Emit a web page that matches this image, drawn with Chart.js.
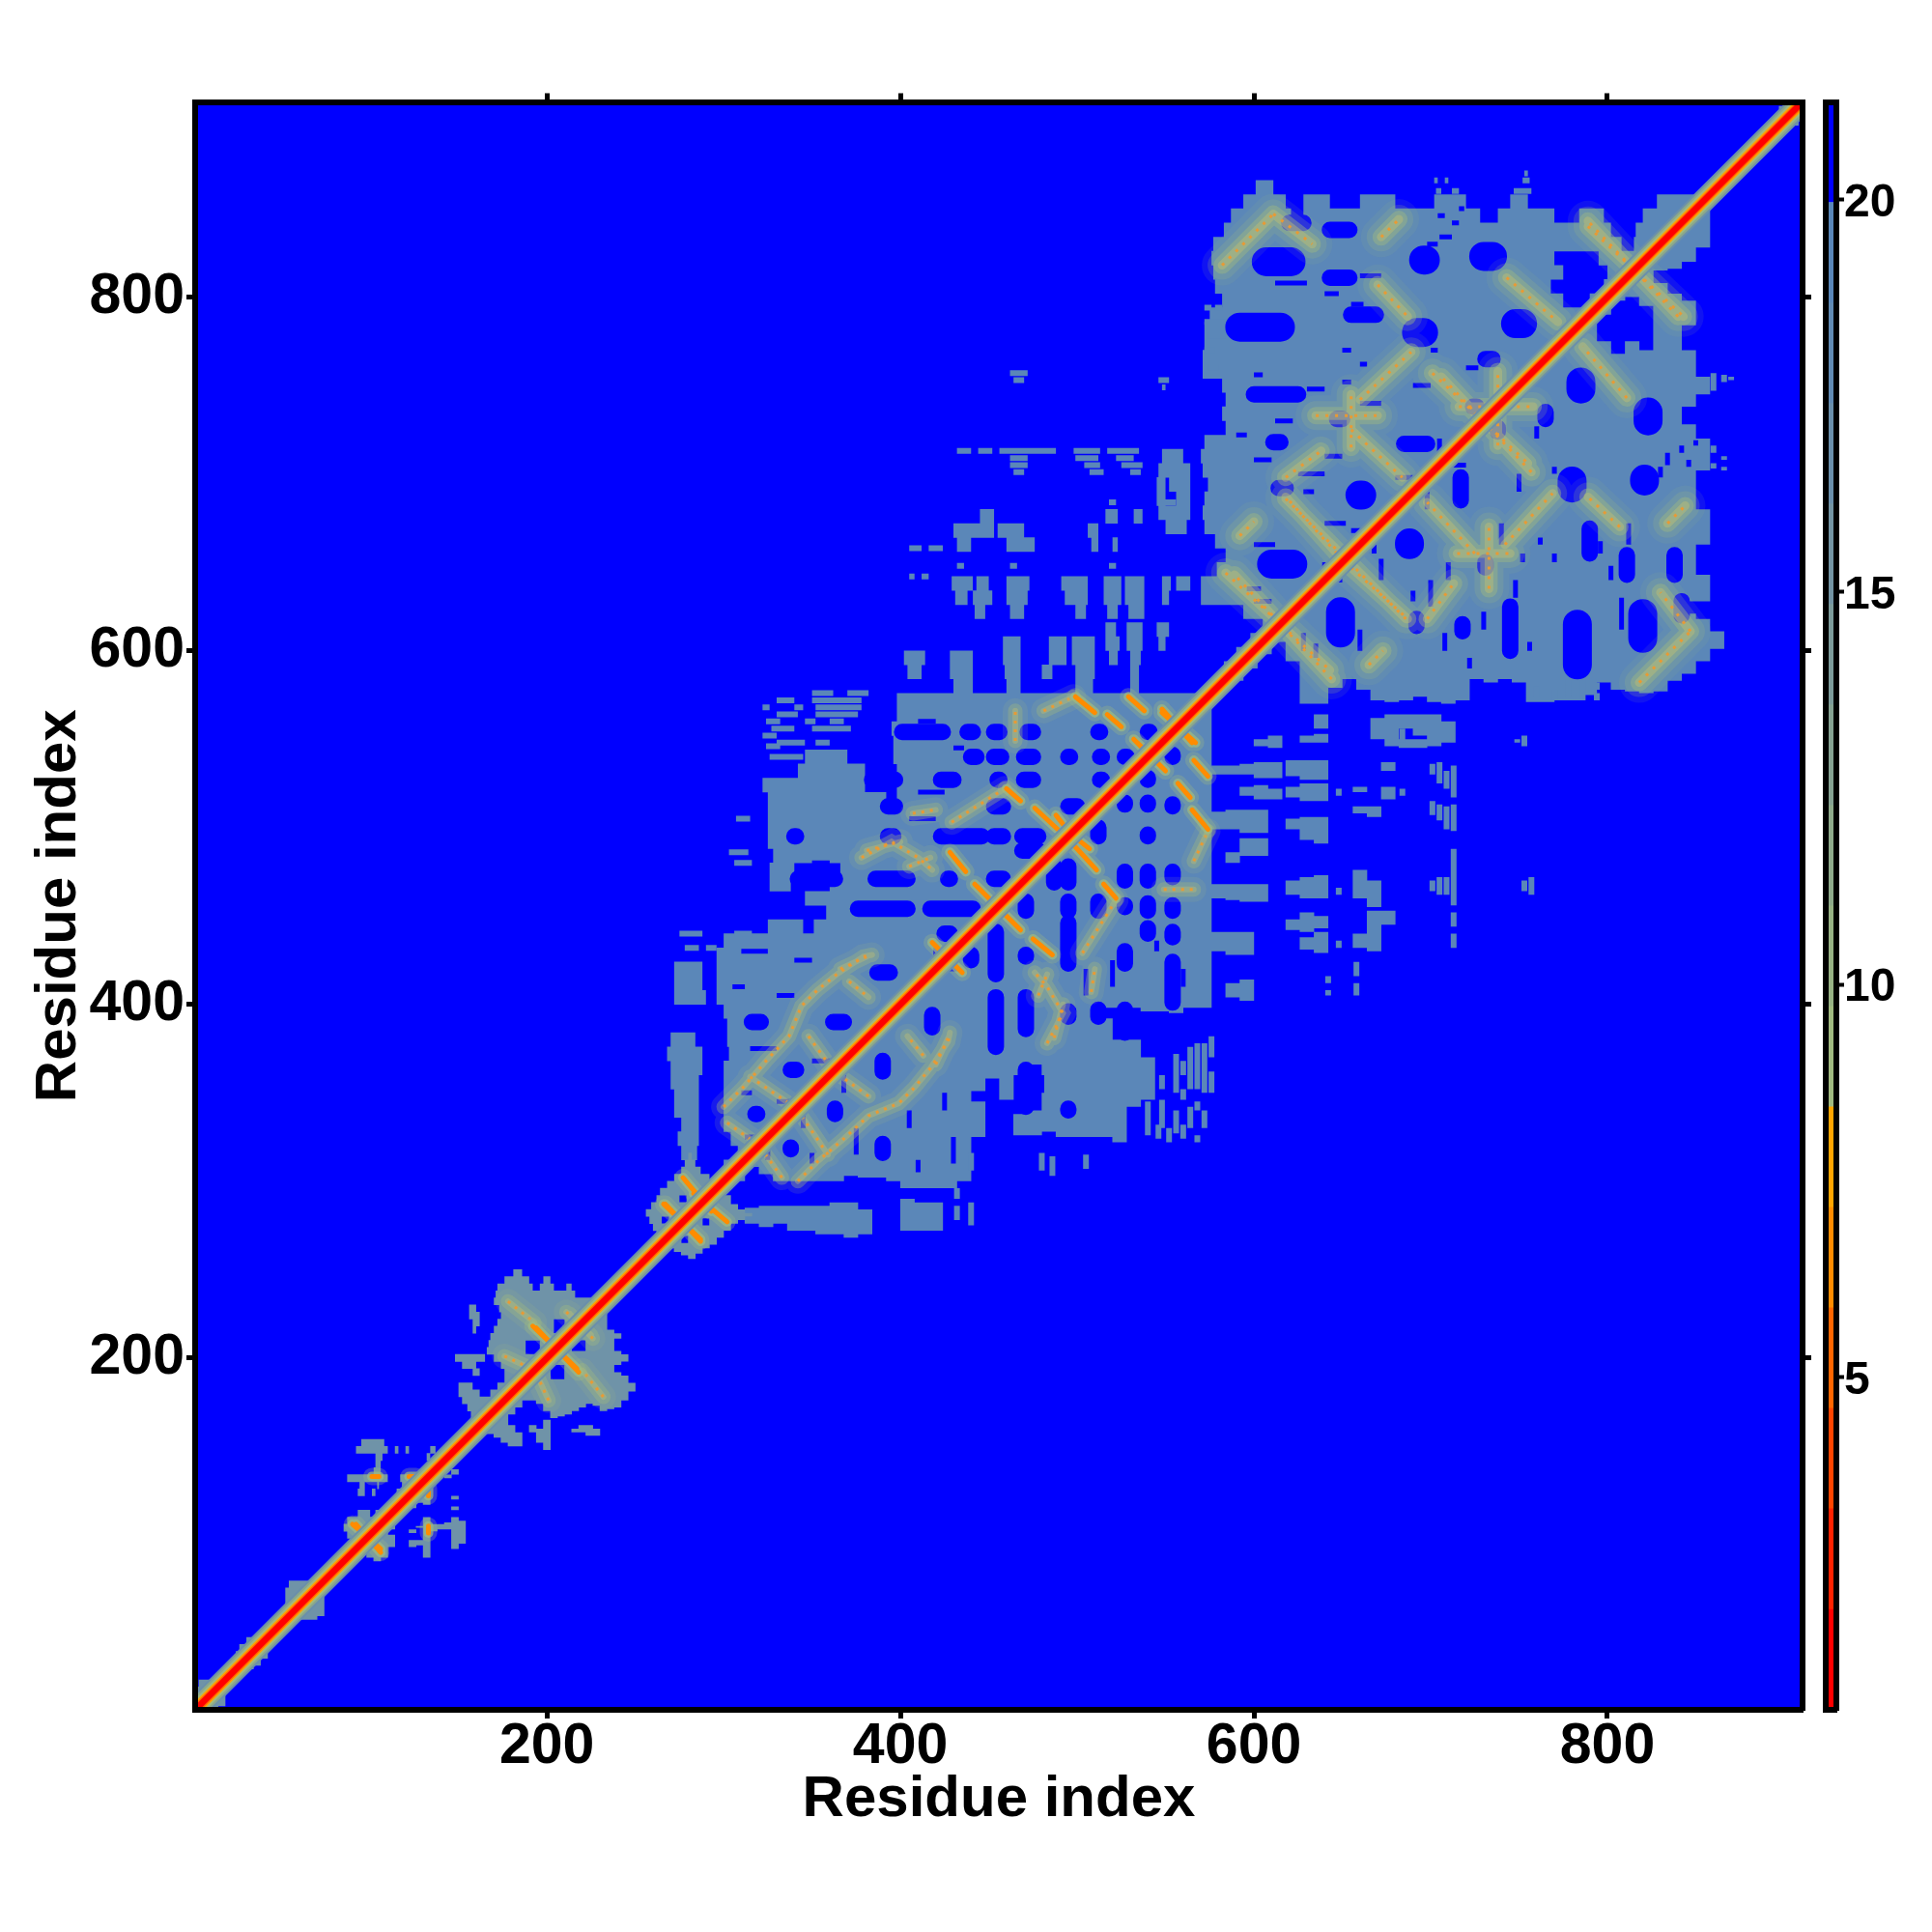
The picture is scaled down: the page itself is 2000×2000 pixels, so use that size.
<!DOCTYPE html>
<html>
<head>
<meta charset="utf-8">
<title>Residue contact map</title>
<script src="https://cdn.jsdelivr.net/npm/chart.js@4"></script>
<style>
  html, body { margin: 0; padding: 0; background: #fff; }
  #wrap { position: relative; width: 2000px; height: 2000px; }
  canvas { position: absolute; left: 0; top: 0; }
</style>
</head>
<body>
<div id="wrap">
  <canvas id="map" width="2000" height="2000"></canvas>
  <canvas id="bar" width="2000" height="2000"></canvas>
</div>
<script>
// tick labels
const axisTicks = [200, 400, 600, 800];
const barTicks = [5, 10, 15, 20];
const residueMin = 1;
const residueMax = 910.4;

// colour key: level edges (distance) and the colour of each level
const levelEdges = [0.76, 2.04, 3.32, 4.6, 5.88, 7.16, 8.44, 9.72, 11, 12.28, 13.56, 14.84, 16.12, 17.4, 18.68, 19.96, 21.24];
const levelColors = ['#ff0000', '#ff2200', '#ff4500', '#ff6600', '#ff8c00', '#ffa500',
  '#a0ba80', '#97b284', '#8eaa8a', '#85a292', '#7c9b9a', '#7394a3', '#6a8fab', '#618ab3', '#5a87b9', '#0000ff'];

const diagonalEnds = [1, 1, 910, 910];

// Only the half with x < y is listed, the other half is its mirror.
// each row: y, then x start / x end pairs. rows 8 residues tall
const coarseRows = [
  [862, 601, 611],
  [854, 594, 618, 628, 643, 660, 680, 702, 720, 745, 755, 828, 854],
  [846, 587, 621, 628, 728, 738, 770, 784, 798, 820, 846],
  [838, 583, 802, 816, 838],
  [830, 577, 808, 815, 830],
  [822, 576, 770, 795, 822],
  [814, 577, 775, 800, 814],
  [806, 578, 768, 798, 806],
  [798, 582, 775, 790, 798],
  [790, 575, 790],
  [782, 572, 782],
  [774, 572, 774],
  [766, 571, 766],
  [758, 571, 758],
  [750, 582, 750],
  [742, 584, 742],
  [734, 582, 734],
  [726, 584, 726],
  [718, 572, 718],
  [710, 548, 560, 570, 710],
  [702, 546, 564, 571, 702],
  [694, 545, 550, 552, 564, 574, 694],
  [686, 545, 550, 556, 564, 572, 686],
  [678, 546, 564, 571, 678],
  [676, 445, 453, 516, 523, 532, 537],
  [670, 550, 562, 572, 670],
  [668, 430, 453, 455, 470, 506, 512],
  [662, 578, 662],
  [660, 432, 440, 460, 476, 508, 512, 520, 523],
  [654, 584, 654],
  [646, 579, 646],
  [638, 429, 441, 443, 450, 460, 473, 491, 506, 515, 525, 527, 538, 548, 553, 556, 564, 570, 638],
  [630, 431, 438, 441, 452, 460, 472, 493, 506, 515, 525, 527, 538, 548, 552, 570, 630],
  [622, 442, 448, 462, 470, 499, 505, 517, 523, 529, 538, 594, 622],
  [614, 605, 614],
  [612, 516, 522, 528, 537, 545, 552],
  [606, 598, 606],
  [604, 458, 468, 484, 494, 497, 510, 516, 524, 528, 537, 546, 550],
  [598, 590, 598],
  [596, 402, 414, 428, 441, 458, 468, 484, 494, 497, 510, 518, 523, 530, 536],
  [590, 583, 590],
  [588, 404, 412, 428, 441, 459, 468, 480, 486, 499, 510, 530, 535],
  [580, 430, 441, 460, 468, 499, 509, 530, 535],
  [572, 398, 572],
  [564, 398, 564],
  [556, 395, 556],
  [548, 396, 548],
  [540, 346, 370, 396, 540],
  [532, 342, 380, 398, 532],
  [524, 322, 380, 398, 524],
  [516, 325, 392, 398, 516],
  [508, 325, 508],
  [500, 325, 500],
  [492, 325, 492],
  [484, 328, 484],
  [476, 326, 340, 366, 476],
  [468, 326, 338, 360, 468],
  [460, 346, 460],
  [452, 358, 452],
  [444, 325, 345, 351, 444],
  [436, 300, 436],
  [428, 296, 428],
  [420, 272, 288, 296, 420],
  [412, 272, 288, 296, 412],
  [404, 272, 290, 296, 404],
  [396, 300, 396],
  [388, 302, 388],
  [380, 270, 284, 302, 380],
  [372, 268, 288, 303, 372],
  [364, 270, 288, 300, 364],
  [356, 270, 286, 300, 356],
  [348, 272, 286, 300, 348],
  [340, 272, 286, 300, 340],
  [332, 276, 286, 300, 332],
  [324, 274, 286, 304, 324],
  [316, 276, 285, 308, 316],
  [308, 300, 308]
];

// blue gaps punched into the blobs: y, then x start / x end pairs
const bigHoles = [
  [783, 592, 615], [820, 607, 621], [821, 696, 697], [823, 730, 735], [780, 692, 696],
  [785, 748, 752], [649, 610, 622], [688, 660, 661]
];
const smallHoles = [
  [842, 620, 628], [838, 643, 654], [811, 643, 654],
  [790, 655, 669], [765, 731, 735],
  [745, 600, 625], [738, 724, 726], [731, 647, 650], [718, 611, 615], [717, 685, 698],
  [692, 614, 618],
  [554, 401, 424], [554, 438, 441], [554, 453, 456], [554, 472, 475], [554, 512, 513], [554, 540, 541],
  [540, 440, 443], [540, 453, 457], [540, 470, 475], [540, 495, 496], [540, 513, 514], [540, 527, 528],
  [527, 384, 397], [527, 423, 430], [527, 455, 456], [527, 470, 475], [527, 513, 514],
  [512, 393, 397], [512, 453, 458], [512, 495, 500],
  [495, 340, 341], [495, 393, 396], [495, 423, 446], [495, 453, 458], [495, 469, 478], [487, 469, 478],
  [471, 342, 363], [471, 386, 404], [471, 427, 428], [471, 453, 458],
  [454, 376, 404], [454, 417, 441],
  [440, 425, 428], [418, 387, 394],
  [390, 316, 321], [390, 362, 368], [363, 338, 341], [338, 318, 319]
];
// short ragged gaps
const holeSpecks = [
  [846, 704, 708], [842, 712, 716], [850, 716, 719], [834, 705, 712], [830, 698, 704],
  [812, 660, 672], [808, 612, 630], [802, 640, 648], [796, 655, 662], [770, 700, 704],
  [760, 720, 727], [756, 600, 605], [748, 630, 640], [752, 650, 655], [730, 612, 622],
  [722, 590, 596], [700, 625, 640], [708, 600, 610], [690, 628, 634], [672, 640, 652],
  [668, 655, 665], [660, 600, 612], [640, 640, 650], [635, 596, 604], [628, 600, 610],
  [770, 650, 655], [762, 660, 664], [750, 690, 700], [740, 660, 672], [710, 640, 650],
  [705, 712, 720], [698, 680, 690],
  [560, 410, 420], [545, 430, 436], [520, 410, 425], [505, 405, 420], [480, 350, 360],
  [450, 335, 345], [430, 310, 325], [425, 340, 350], [410, 305, 312], [405, 330, 340],
  [375, 315, 330], [368, 350, 362], [350, 310, 316], [345, 330, 340], [325, 312, 322],
  [420, 420, 432]
];

// thin steel rows, 4 residues tall, the ragged outlying bits
const thinRows = [
  [757, 462, 472], [753, 464, 470, 546, 552], [749, 548, 550],
  [713, 432, 440, 444, 452, 456, 488, 498, 513, 517, 535],
  [709, 462, 472, 499, 512, 522, 532],
  [705, 462, 472, 504, 513, 525, 537],
  [701, 464, 470, 507, 515, 530, 536],
  [658, 405, 412, 416, 424], [684, 518, 522, 548, 556],
  [648, 432, 436, 462, 466, 518, 522], [642, 405, 408, 412, 416],
  [870, 753, 755], [866, 702, 704, 708, 710, 752, 756], [860, 703, 706, 712, 716, 747, 757],
  [576, 350, 362, 370, 382], [572, 330, 340, 350, 378], [568, 322, 326, 340, 345, 352, 378],
  [564, 330, 342, 352, 376], [560, 324, 332, 346, 352, 360, 368], [556, 327, 340, 350, 372],
  [552, 322, 330], [548, 330, 346, 352, 360], [546, 324, 332], [540, 326, 345],
  [505, 307, 315], [486, 303, 314], [480, 306, 316],
  [440, 275, 288, 306, 316], [432, 278, 286, 290, 296],
  [760, 574, 580], [794, 572, 576, 578, 582], [786, 572, 590], [778, 574, 584], [770, 572, 578]
];

// same form, rows 4 residues tall, the small clusters along the diagonal
const clusterRows = [
  [906, 897, 906], [902, 896, 902],
  [314, 280, 282], [310, 278, 284], [306, 276, 287], [302, 272, 292],
  [298, 268, 296], [294, 264, 294], [290, 262, 275, 279, 290], [286, 259, 286],
  [282, 256, 282], [278, 258, 265, 269, 278], [274, 260, 274], [270, 262, 270], [266, 263, 266],
  [248, 181, 186],
  [244, 176, 190, 198, 202],
  [240, 172, 192, 196, 204, 211, 214],
  [236, 171, 216],
  [232, 170, 232],
  [228, 156, 160, 173, 228],
  [224, 156, 162, 174, 224],
  [220, 158, 162, 172, 204, 210, 220],
  [216, 158, 160, 170, 204, 209, 216],
  [212, 168, 212],
  [208, 167, 188, 196, 208],
  [204, 166, 188, 196, 204],
  [200, 148, 165, 170, 200],
  [196, 152, 160, 174, 196],
  [192, 158, 162, 176, 192],
  [188, 176, 188],
  [184, 150, 158, 172, 184],
  [180, 150, 162, 168, 180],
  [176, 152, 176],
  [172, 155, 172],
  [168, 157, 168],
  [164, 160, 164],
  [152, 95, 108],
  [148, 92, 110, 114, 116, 120, 122, 134, 137],
  [144, 103, 107, 132, 134],
  [140, 103, 106, 137, 140],
  [136, 102, 106],
  [132, 87, 110, 117, 130],
  [128, 94, 97, 104, 105, 118, 127],
  [124, 93, 97, 101, 103, 115, 124],
  [112, 93, 100, 103, 112],
  [108, 87, 108],
  [104, 85, 104],
  [100, 87, 100],
  [96, 90, 96],
  [92, 90, 92],
  [72, 54, 72], [68, 52, 68], [64, 52, 64], [60, 52, 60], [56, 52, 56],
  [40, 30, 40], [36, 26, 36], [32, 24, 32], [28, 24, 28],
  [16, 3, 13], [12, 1, 12], [8, 1, 8], [4, 1, 4]
];

// anti-diagonal arms, each x0, y0, x1, y1 ...
const strongArms = [
  [499, 574, 510, 565], [517, 564, 525, 557], [529, 574, 538, 566],
  [548, 565, 567, 548], [534, 548, 550, 532], [460, 522, 468, 515],
  [476, 511, 489, 499], [493, 499, 507, 488], [428, 486, 437, 475],
  [443, 467, 468, 442], [418, 435, 435, 418],
  [194, 217, 218, 192], [92, 106, 106, 90], [266, 287, 287, 267], [283, 293, 302, 277],
  [101, 133, 105, 133], [122, 133, 126, 133]
];
const softArms = [
  [582, 818, 611, 847], [611, 847, 633, 830], [670, 807, 687, 789],
  [743, 811, 772, 786], [789, 840, 843, 789], [660, 742, 689, 769],
  [701, 757, 755, 706], [635, 733, 670, 733], [655, 725, 684, 698],
  [618, 686, 650, 654], [655, 647, 687, 618], [618, 698, 638, 713],
  [584, 644, 643, 589], [655, 715, 655, 745], [738, 716, 738, 758],
  [672, 834, 682, 844], [592, 665, 600, 673]
];
const midArcs = [
  [300, 342, 311, 353, 324, 368, 337, 382, 344, 399, 353, 408, 364, 417, 379, 427, 384, 428],
  [302, 333, 319, 321], [348, 382, 361, 364], [315, 359, 337, 344], [371, 413, 382, 404],
  [378, 483, 395, 492, 410, 483, 418, 476],
  [407, 508, 420, 510], [429, 503, 459, 522],
  [481, 566, 498, 574], [465, 549, 465, 566],
  [405, 478, 417, 483], [381, 487, 400, 492], [366, 420, 381, 427],
  [178, 232, 193, 220], [211, 226, 225, 213], [176, 201, 189, 195]
];

// turn rows into one broken line, horizontal runs and their vertical mirror
function rowsToPoints(rows) {
  const pts = [];
  rows.forEach(row => {
    for (let i = 1; i < row.length; i += 2) {
      pts.push({ x: row[i], y: row[0] }, { x: row[i + 1], y: row[0] }, { x: NaN, y: NaN });
      pts.push({ x: row[0], y: row[i] }, { x: row[0], y: row[i + 1] }, { x: NaN, y: NaN });
    }
  });
  return pts;
}

function armsToPoints(arms) {
  const pts = [];
  arms.forEach(arm => {
    for (let i = 0; i < arm.length; i += 2) pts.push({ x: arm[i], y: arm[i + 1] });
    pts.push({ x: NaN, y: NaN });
    for (let i = 0; i < arm.length; i += 2) pts.push({ x: arm[i + 1], y: arm[i] });
    pts.push({ x: NaN, y: NaN });
  });
  return pts;
}

const datasets = [];
function addLayer(data, width, color, cap, dash) {
  datasets.push({
    data: data,
    showLine: true,
    pointRadius: 0,
    borderWidth: width,
    borderColor: color,
    borderCapStyle: cap || 'butt',
    borderDash: dash || [],
    tension: 0,
    fill: false,
    order: 100 - datasets.length
  });
}

const STEEL = '#5b87b8';
addLayer(rowsToPoints(coarseRows), 15, STEEL);
addLayer(rowsToPoints(thinRows), 6, STEEL);
addLayer(rowsToPoints(clusterRows), 7.8, '#6f93a8');
addLayer(rowsToPoints(bigHoles), 30, '#0000ff', 'round');
addLayer(rowsToPoints(smallHoles), 17, '#0000ff', 'round');
addLayer(rowsToPoints(holeSpecks), 5, '#0000ff');

const softPts = armsToPoints(softArms);
addLayer(softPts, 42, 'rgba(160,186,128,0.10)', 'round');
addLayer(softPts, 30, 'rgba(160,186,128,0.20)', 'round');
addLayer(softPts, 18, 'rgba(160,186,128,0.42)', 'round');
addLayer(softPts, 9, 'rgba(190,190,115,0.45)', 'round');
addLayer(softPts, 3, '#e89a35', 'butt', [3, 7]);

const arcPts = armsToPoints(midArcs);
addLayer(arcPts, 26, 'rgba(160,186,128,0.14)', 'round');
addLayer(arcPts, 15, 'rgba(160,186,128,0.36)', 'round');
addLayer(arcPts, 6, 'rgba(190,190,115,0.4)', 'round');
addLayer(arcPts, 3, '#e89a35', 'butt', [3, 6]);

const strongPts = armsToPoints(strongArms);
addLayer(strongPts, 18, 'rgba(160,186,128,0.3)', 'round');
addLayer(strongPts, 10, 'rgba(160,186,128,0.7)', 'round');
addLayer(strongPts, 5, '#ff8c00', 'round');

const diagPts = armsToPoints([diagonalEnds]);
addLayer(diagPts, 24, '#6a8fab');
addLayer(diagPts, 20, '#8aa78c');
addLayer(diagPts, 16, '#a0ba80');
addLayer(diagPts, 12, '#ffa500');
addLayer(diagPts, 9, '#ff6600');
addLayer(diagPts, 6.5, '#ff0000');

const FONT = 'Liberation Sans';

function setTicks(values) {
  return scale => { scale.ticks = values.map(v => ({ value: v })); };
}

function frameAxis(type, position, size, values, showLabels, extra, labelPad) {
  return Object.assign({
    type: type,
    position: position,
    min: residueMin,
    max: residueMax,
    afterBuildTicks: setTicks(values),
    afterFit: scale => {
      if (position === 'left' || position === 'right') scale.width = size;
      else scale.height = size;
    },
    border: { display: true, color: '#000', width: 6, z: 2 },
    grid: { drawOnChartArea: false, drawTicks: true, tickLength: 9, tickWidth: 5, tickColor: '#000', z: 2 },
    ticks: {
      display: showLabels,
      color: '#000',
      autoSkip: false,
      maxRotation: 0,
      padding: labelPad === undefined ? 2 : labelPad,
      font: { family: FONT, weight: 'bold', size: 59 },
      callback: v => String(v)
    }
  }, extra || {});
}

const blueBackground = {
  id: 'blueBackground',
  beforeDatasetsDraw(chart) {
    const a = chart.chartArea;
    chart.ctx.save();
    chart.ctx.fillStyle = '#0000ff';
    chart.ctx.fillRect(a.left, a.top, a.width, a.height);
    chart.ctx.restore();
  }
};

new Chart(document.getElementById('map').getContext('2d'), {
  type: 'scatter',
  data: { datasets: datasets },
  plugins: [blueBackground],
  options: {
    responsive: false,
    animation: false,
    layout: { padding: 0 },
    plugins: { legend: { display: false }, tooltip: { enabled: false } },
    scales: {
      x: frameAxis('linear', 'bottom', 230, axisTicks, true, {
        title: { display: true, text: 'Residue index', color: '#000', padding: { bottom: 101, top: 0 },
          font: { family: FONT, weight: 'bold', size: 60 } }
      }, -6),
      xTop: frameAxis('linear', 'top', 105.5, axisTicks, false),
      y: frameAxis('linear', 'left', 202, axisTicks, true, {
        title: { display: true, text: 'Residue index', color: '#000', padding: { top: 25, bottom: 0 },
          font: { family: FONT, weight: 'bold', size: 60 } }
      }),
      yRight: frameAxis('linear', 'right', 134, axisTicks, false)
    }
  }
});

// colour key, floating bars on its own axis
const barSets = levelColors.map((c, i) => ({
  data: [[levelEdges[i], levelEdges[i + 1]]],
  backgroundColor: c,
  borderWidth: 0,
  barPercentage: 1,
  categoryPercentage: 1,
  grouped: false
}));

function barFrame(position, size, type) {
  const horizontal = position === 'top' || position === 'bottom';
  return {
    type: type,
    position: position,
    min: horizontal ? undefined : levelEdges[0],
    max: horizontal ? undefined : levelEdges[levelEdges.length - 1],
    offset: horizontal,
    afterFit: scale => {
      if (horizontal) scale.height = size; else scale.width = size;
    },
    border: { display: true, color: '#000', width: 6, z: 2 },
    grid: { display: false },
    ticks: { display: false }
  };
}

const barY = barFrame('right', 99, 'linear');
barY.afterBuildTicks = setTicks(barTicks);
barY.grid = { display: true, drawOnChartArea: false, drawTicks: true, tickLength: 8, tickWidth: 4, tickColor: '#000', z: 2 };
barY.ticks = { display: true, color: '#000', padding: 0, labelOffset: 4, autoSkip: false, font: { family: FONT, weight: 'bold', size: 48 }, callback: v => String(v) };

new Chart(document.getElementById('bar').getContext('2d'), {
  type: 'bar',
  data: { labels: [''], datasets: barSets },
  options: {
    responsive: false,
    animation: false,
    layout: { padding: 0 },
    plugins: { legend: { display: false }, tooltip: { enabled: false } },
    scales: {
      x: barFrame('bottom', 230, 'category'),
      xTop: barFrame('top', 105.5, 'category'),
      yLeft: barFrame('left', 1889.5, 'linear'),
      y: barY
    }
  }
});
</script>
</body>
</html>
